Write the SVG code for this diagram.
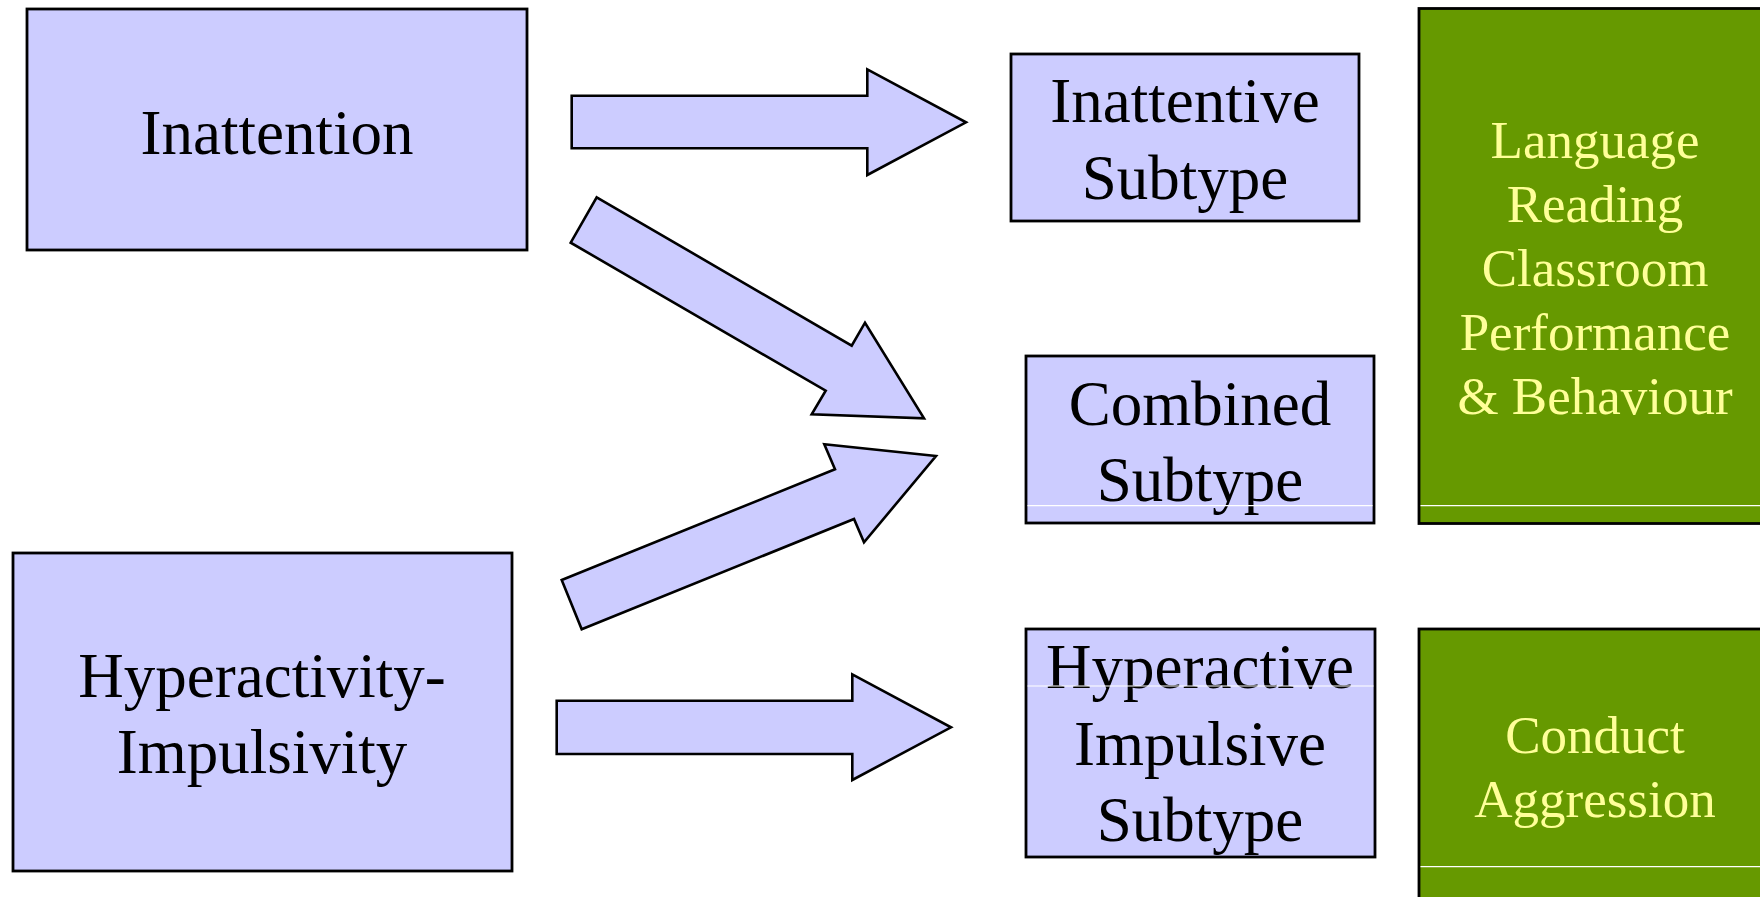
<svg xmlns="http://www.w3.org/2000/svg" width="1760" height="897" viewBox="0 0 1760 897">
  <style>
    .box { fill: #CCCCFF; stroke: #000; stroke-width: 2.8; }
    .outcome { fill: #669900; stroke: #000; stroke-width: 2.8; }
    .arrow { fill: #CCCCFF; stroke: #000; stroke-width: 2.6; stroke-linejoin: miter; }
    .sep { stroke: #FFFFFF; stroke-width: 1.2; }
    .lbl { font-family: "Liberation Serif", "Times New Roman", serif; font-size: 63px; fill: #000; text-anchor: middle; }
    .olbl { font-family: "Liberation Serif", "Times New Roman", serif; font-size: 53px; fill: #FFFF99; text-anchor: middle; }
  </style>
  <rect width="1760" height="897" fill="#FFFFFF"/>

  <!-- symptom domains -->
  <g id="inattention">
    <rect class="box" x="27" y="9" width="500" height="241"/>
    <text class="lbl" x="277" y="154">Inattention</text>
  </g>
  <g id="hyperactivity-impulsivity">
    <rect class="box" x="13" y="553" width="499" height="318"/>
    <text class="lbl" x="262" y="697">Hyperactivity-</text>
    <text class="lbl" x="262" y="773">Impulsivity</text>
  </g>

  <!-- subtypes -->
  <g id="inattentive-subtype">
    <rect class="box" x="1011" y="54" width="348" height="167"/>
    <text class="lbl" x="1185" y="122">Inattentive</text>
    <text class="lbl" x="1185" y="199">Subtype</text>
  </g>
  <g id="combined-subtype">
    <rect class="box" x="1026" y="356" width="348" height="167"/>
    <text class="lbl" x="1200" y="425">Combined</text>
    <text class="lbl" x="1200" y="501">Subtype</text>
    <line class="sep" x1="1027.5" y1="505.7" x2="1372.5" y2="505.7"/>
  </g>
  <g id="hyperactive-impulsive-subtype">
    <rect class="box" x="1026" y="629" width="349" height="228"/>
    <text class="lbl" x="1200" y="688">Hyperactive</text>
    <text class="lbl" x="1200" y="765">Impulsive</text>
    <text class="lbl" x="1200" y="841">Subtype</text>
    <line class="sep" x1="1027.5" y1="686" x2="1373.5" y2="686"/>
  </g>

  <!-- associated outcomes -->
  <g id="academic-outcomes">
    <rect class="outcome" x="1419" y="8.5" width="360" height="515"/>
    <text class="olbl" x="1595" y="158">Language</text>
    <text class="olbl" x="1595" y="222">Reading</text>
    <text class="olbl" x="1595" y="286">Classroom</text>
    <text class="olbl" x="1595" y="350">Performance</text>
    <text class="olbl" x="1595" y="414">&amp; Behaviour</text>
    <line class="sep" x1="1420.5" y1="505.7" x2="1760" y2="505.7"/>
  </g>
  <g id="conduct-outcomes">
    <rect class="outcome" x="1419" y="629" width="360" height="290"/>
    <text class="olbl" x="1595" y="753">Conduct</text>
    <text class="olbl" x="1595" y="817">Aggression</text>
    <line class="sep" x1="1420.5" y1="866.7" x2="1760" y2="866.7"/>
  </g>

  <!-- block arrows -->
  <g id="connectors">
    <polygon class="arrow" points="571.7,95.7 867.3,95.7 867.3,69.3 966,122.3 867.3,175 867.3,148.3 571.7,148.3"/>
    <polygon class="arrow" points="596.7,197.3 851.7,345.7 865,322.7 924,418.3 811.7,414.3 825.7,390.7 570.7,242.7"/>
    <polygon class="arrow" points="561.7,580 835,469.3 824.3,444.3 936,456 864,542.3 854,519 581.7,629.3"/>
    <polygon class="arrow" points="556.7,700.7 852.3,700.7 852.3,674.3 951,727.3 852.3,780 852.3,754 556.7,754"/>
  </g>
</svg>
